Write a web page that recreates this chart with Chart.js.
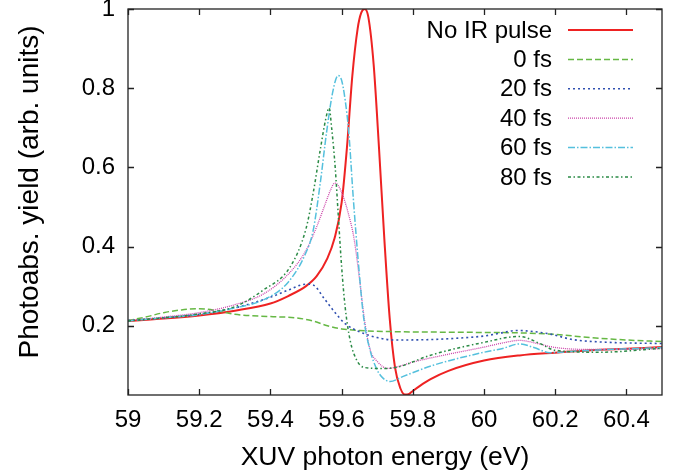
<!DOCTYPE html>
<html>
<head>
<meta charset="utf-8">
<script src="https://cdn.jsdelivr.net/npm/chart.js@4/dist/chart.umd.min.js"></script>
<style>
html,body{margin:0;padding:0;background:#fff;}
#wrap{width:676px;height:476px;}
</style>
</head>
<body>
<div id="wrap"><canvas id="c" width="676" height="476"></canvas></div>
<script>
// ---- axis ticks ----
const xTicks = [59, 59.2, 59.4, 59.6, 59.8, 60, 60.2, 60.4];
const yTicks = [0.2, 0.4, 0.6, 0.8, 1];

// ---- axis titles ----
const xTitle = 'XUV photon energy (eV)';
const yTitle = 'Photoabs. yield (arb. units)';

// ---- series labels ----
const seriesLabels = ['No IR pulse', '0 fs', '20 fs', '40 fs', '60 fs', '80 fs'];

// ---- No IR pulse ----
const eNoIR = [59.0, 59.1, 59.2, 59.3, 59.4, 59.45, 59.5, 59.53, 59.56, 59.58, 59.6, 59.615, 59.63, 59.645, 59.655, 59.665, 59.675, 59.69, 59.705, 59.72, 59.735, 59.75, 59.765, 59.778, 59.79, 59.8, 59.82, 59.85, 59.9, 60.0, 60.1, 60.2, 60.3, 60.4, 60.5];
const yNoIR = [0.212, 0.218, 0.226, 0.238, 0.256, 0.275, 0.3, 0.325, 0.37, 0.42, 0.51, 0.65, 0.83, 0.95, 0.99, 1.0, 0.98, 0.86, 0.65, 0.42, 0.22, 0.095, 0.042, 0.026, 0.028, 0.035, 0.048, 0.065, 0.086, 0.112, 0.125, 0.132, 0.138, 0.142, 0.146];

// ---- 0 fs ----
const e0 = [59.0, 59.05, 59.1, 59.15, 59.2, 59.25, 59.3, 59.4, 59.47, 59.52, 59.56, 59.6, 59.65, 59.75, 59.85, 60.0, 60.1, 60.2, 60.3, 60.4, 60.5];
const y0 = [0.213, 0.222, 0.233, 0.240, 0.243, 0.238, 0.229, 0.223, 0.220, 0.212, 0.200, 0.192, 0.188, 0.185, 0.184, 0.183, 0.182, 0.178, 0.170, 0.164, 0.160];

// ---- 20 fs ----
const e20 = [59.0, 59.1, 59.2, 59.3, 59.4, 59.45, 59.5, 59.52, 59.55, 59.58, 59.61, 59.65, 59.7, 59.75, 59.85, 59.95, 60.0, 60.05, 60.09, 60.13, 60.18, 60.25, 60.35, 60.5];
const y20 = [0.213, 0.22, 0.229, 0.245, 0.272, 0.29, 0.305, 0.303, 0.27, 0.235, 0.205, 0.185, 0.17, 0.164, 0.165, 0.17, 0.174, 0.182, 0.188, 0.186, 0.18, 0.165, 0.158, 0.155];

// ---- 40 fs ----
const e40 = [59.0, 59.1, 59.2, 59.3, 59.38, 59.45, 59.5, 59.53, 59.555, 59.57, 59.58, 59.59, 59.605, 59.62, 59.635, 59.65, 59.665, 59.68, 59.7, 59.73, 59.76, 59.8, 59.9, 60.0, 60.05, 60.1, 60.15, 60.2, 60.3, 60.5];
const y40 = [0.213, 0.222, 0.233, 0.253, 0.28, 0.33, 0.39, 0.45, 0.51, 0.545, 0.56, 0.555, 0.525, 0.48, 0.42, 0.32, 0.21, 0.14, 0.11, 0.092, 0.097, 0.108, 0.128, 0.146, 0.156, 0.163, 0.155, 0.145, 0.140, 0.142];

// ---- 60 fs ----
const e60 = [59.0, 59.1, 59.2, 59.3, 59.38, 59.45, 59.5, 59.52, 59.54, 59.558, 59.575, 59.59, 59.6, 59.61, 59.62, 59.633, 59.648, 59.662, 59.68, 59.7, 59.717, 59.736, 59.773, 59.857, 60.0, 60.05, 60.1, 60.14, 60.185, 60.28, 60.5];
const y60 = [0.212, 0.22, 0.228, 0.245, 0.265, 0.31, 0.385, 0.44, 0.56, 0.69, 0.79, 0.832, 0.82, 0.77, 0.69, 0.52, 0.35, 0.22, 0.138, 0.088, 0.067, 0.059, 0.072, 0.1, 0.133, 0.142, 0.154, 0.145, 0.132, 0.137, 0.145];

// ---- 80 fs ----
const e80 = [59.0, 59.1, 59.2, 59.3, 59.38, 59.455, 59.5, 59.52, 59.54, 59.555, 59.565, 59.572, 59.582, 59.591, 59.6, 59.61, 59.624, 59.643, 59.662, 59.708, 59.755, 59.848, 60.0, 60.1, 60.157, 60.2, 60.325, 60.5];
const y80 = [0.212, 0.22, 0.23, 0.248, 0.29, 0.348, 0.445, 0.534, 0.644, 0.72, 0.75, 0.70, 0.6, 0.474, 0.35, 0.247, 0.163, 0.112, 0.095, 0.092, 0.095, 0.125, 0.158, 0.173, 0.155, 0.138, 0.133, 0.143];

const pts = (xs, ys) => xs.map((x, i) => ({x: x, y: ys[i]}));

const FONT = '"Liberation Sans", Arial, Helvetica, sans-serif';

const styles = [
  {color: '#ee2222', width: 2, dash: []},
  {color: '#66b844', width: 1.5, dash: [6, 3]},
  {color: '#3050b0', width: 1.6, dash: [2, 3]},
  {color: '#cc44aa', width: 1.3, dash: [1, 1]},
  {color: '#55c0dd', width: 1.5, dash: [7, 2, 1.5, 2]},
  {color: '#2a8a45', width: 1.5, dash: [3, 2.5, 1.5, 2.5]}
];
const seriesData = [pts(eNoIR, yNoIR), pts(e0, y0), pts(e20, y20), pts(e40, y40), pts(e60, y60), pts(e80, y80)];

const datasets = seriesData.map((d, i) => ({
  label: seriesLabels[i],
  data: d,
  borderColor: styles[i].color,
  backgroundColor: styles[i].color,
  borderWidth: styles[i].width,
  borderDash: styles[i].dash,
  pointRadius: 0,
  fill: false,
  cubicInterpolationMode: 'monotone'
})).reverse();

const framePlugin = {
  id: 'frame',
  afterDatasetsDraw(chart) {
    const {ctx, chartArea: a, scales: {x, y}} = chart;
    ctx.save();
    ctx.strokeStyle = '#222';
    ctx.lineWidth = 1.3;
    ctx.setLineDash([]);
    ctx.strokeRect(a.left, a.top, a.right - a.left, a.bottom - a.top);
    ctx.beginPath();
    const L = 6;
    x.ticks.forEach(t => {
      const px = Math.round(x.getPixelForValue(t.value)) + 0.5;
      ctx.moveTo(px, a.bottom); ctx.lineTo(px, a.bottom - L);
      ctx.moveTo(px, a.top); ctx.lineTo(px, a.top + L);
    });
    y.ticks.forEach(t => {
      const py = Math.round(y.getPixelForValue(t.value)) + 0.5;
      ctx.moveTo(a.left, py); ctx.lineTo(a.left + L, py);
      ctx.moveTo(a.right, py); ctx.lineTo(a.right - L, py);
    });
    ctx.stroke();
    ctx.restore();
  }
};

const titlePlugin = {
  id: 'axisTitles',
  afterDraw(chart) {
    const {ctx} = chart;
    ctx.save();
    ctx.fillStyle = '#000';
    ctx.textAlign = 'center';
    ctx.textBaseline = 'middle';
    ctx.font = '26.5px ' + FONT;
    ctx.fillText(xTitle, 385, 458);
    ctx.translate(30, 192);
    ctx.rotate(-Math.PI / 2);
    ctx.font = '28px ' + FONT;
    ctx.fillText(yTitle, 0, 0);
    ctx.restore();
  }
};

const legendPlugin = {
  id: 'gpLegend',
  afterDraw(chart) {
    const {ctx} = chart;
    ctx.save();
    ctx.font = '24px ' + FONT;
    ctx.fillStyle = '#000';
    ctx.textAlign = 'right';
    ctx.textBaseline = 'middle';
    seriesLabels.forEach((lab, i) => {
      const yy = 30 + i * 29.4;
      ctx.fillText(lab, 552, yy + 1);
      ctx.beginPath();
      ctx.strokeStyle = styles[i].color;
      ctx.lineWidth = styles[i].width;
      ctx.setLineDash(styles[i].dash);
      ctx.moveTo(568, yy);
      ctx.lineTo(633, yy);
      ctx.stroke();
    });
    ctx.restore();
  }
};

new Chart(document.getElementById('c'), {
  type: 'line',
  data: {datasets: datasets},
  options: {
    responsive: false,
    animation: false,
    devicePixelRatio: 1,
    layout: {padding: {left: 0, top: 9, right: 14, bottom: 0}},
    plugins: {legend: {display: false}, tooltip: {enabled: false}},
    scales: {
      x: {
        type: 'linear',
        min: 59,
        max: 60.5,
        afterBuildTicks: s => { s.ticks = xTicks.map(v => ({value: v})); },
        afterFit: s => { s.height = 81; s.paddingLeft = 0; s.paddingRight = 0; s.paddingTop = 0; s.paddingBottom = 0; },
        grid: {display: false, drawTicks: false},
        border: {display: false},
        ticks: {
          font: {family: FONT, size: 24},
          color: '#000',
          padding: 11,
          maxRotation: 0,
          autoSkip: false,
          callback: v => String(Math.round(v * 10) / 10)
        },
        title: {display: false}
      },
      y: {
        type: 'linear',
        min: 0.025,
        max: 1,
        afterBuildTicks: s => { s.ticks = yTicks.map(v => ({value: v})); },
        afterFit: s => { s.width = 128; s.paddingLeft = 0; s.paddingRight = 0; s.paddingTop = 0; s.paddingBottom = 0; },
        grid: {display: false, drawTicks: false},
        border: {display: false},
        ticks: {
          font: {family: FONT, size: 24},
          color: '#000',
          padding: 13,
          autoSkip: false,
          callback: v => String(Math.round(v * 10) / 10)
        },
        title: {display: false}
      }
    }
  },
  plugins: [framePlugin, titlePlugin, legendPlugin]
});
</script>
</body>
</html>
